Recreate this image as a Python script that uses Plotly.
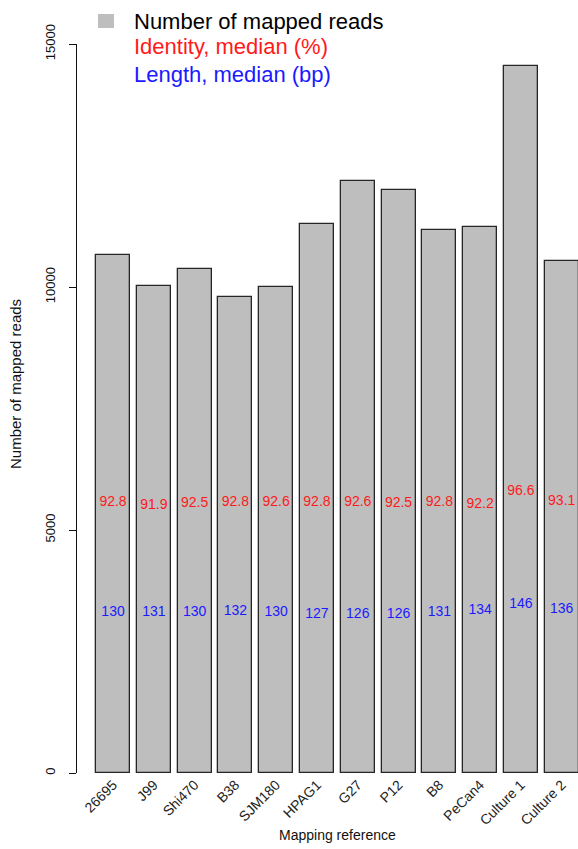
import plotly.graph_objects as go

# Mapping references and per-reference statistics
references = ["26695", "J99", "Shi470", "B38", "SJM180", "HPAG1", "G27",
              "P12", "B8", "PeCan4", "Culture 1", "Culture 2"]
mapped_reads = [10650, 10030, 10380, 9790, 10000, 11290, 12175, 12000,
                11170, 11230, 14550, 10540]
identity_median = [92.8, 91.9, 92.5, 92.8, 92.6, 92.8, 92.6, 92.5, 92.8,
                   92.2, 96.6, 93.1]
length_median = [130, 131, 130, 132, 130, 127, 126, 126, 131, 134, 146, 136]

y_ticks = [0, 5000, 10000, 15000]

W, H = 578, 849
ML, MR, MT, MB = 77, 0, 44, 76
PW, PH = W - ML - MR, H - MT - MB

FONT = "Liberation Sans, Arial, sans-serif"

# barplot-style positions: width 1, space 0.2
centers = [0.7 + 1.2 * i for i in range(len(references))]


def px_x(x):
    return (x - ML) / PW


def px_y(y):
    return (H - MB - y) / PH


fig = go.Figure()

fig.add_trace(go.Bar(
    x=centers, y=mapped_reads, width=1.0,
    marker=dict(color="#BEBEBE", line=dict(color="#262626", width=1.3)),
    hoverinfo="skip", showlegend=False,
))

# Identity medians (red) and length medians (blue) written inside the bars
fig.add_trace(go.Scatter(
    x=centers, y=[v * 60 for v in identity_median],
    text=[f"{v:.1f}" for v in identity_median],
    mode="text", textfont=dict(family=FONT, size=14, color="#FF1A1A"),
    cliponaxis=False, showlegend=False, hoverinfo="skip",
))
fig.add_trace(go.Scatter(
    x=centers, y=[v * 10 + 2000 for v in length_median],
    text=[str(v) for v in length_median],
    mode="text", textfont=dict(family=FONT, size=14, color="#1A1AFF"),
    cliponaxis=False, showlegend=False, hoverinfo="skip",
))

# Legend block
fig.add_shape(type="rect", xref="paper", yref="paper",
              x0=px_x(98), x1=px_x(114), y0=px_y(28), y1=px_y(14),
              fillcolor="#BEBEBE", line=dict(width=0))
legend_rows = [("Number of mapped reads", "#000000", 21),
               ("Identity, median (%)", "#FF1A1A", 47),
               ("Length, median (bp)", "#1A1AFF", 74)]
for label, color, ypix in legend_rows:
    fig.add_annotation(text=label, xref="paper", yref="paper",
                       x=px_x(132), y=px_y(ypix), xanchor="left",
                       yanchor="middle", showarrow=False,
                       font=dict(family=FONT, size=22, color=color))

# Axis titles
fig.add_annotation(text="Number of mapped reads", xref="paper", yref="paper",
                   x=px_x(16), y=px_y(384), textangle=-90, showarrow=False,
                   xanchor="center", yanchor="middle",
                   font=dict(family=FONT, size=15, color="#111111"))
fig.add_annotation(text="Mapping reference", xref="paper", yref="paper",
                   x=px_x(337), y=px_y(835), showarrow=False,
                   xanchor="center", yanchor="middle",
                   font=dict(family=FONT, size=14, color="#111111"))

fig.update_layout(
    width=W, height=H,
    margin=dict(l=ML, r=MR, t=MT, b=MB, pad=0),
    paper_bgcolor="white", plot_bgcolor="white",
    font=dict(family=FONT, color="#111111"),
    bargap=0,
)
fig.update_xaxes(
    range=[-0.36, 14.38], tickvals=centers, ticktext=references,
    tickangle=-45, showline=False, showgrid=False, zeroline=False,
    ticks="", tickfont=dict(family=FONT, size=14, color="#222222"),
)
fig.update_yaxes(
    range=[0, 15000], tickvals=y_ticks, ticktext=[str(t) for t in y_ticks],
    tickangle=-90, showline=True, linecolor="#111111", linewidth=1.3,
    ticks="outside", ticklen=7, tickwidth=1.3, tickcolor="#111111",
    showgrid=False, zeroline=False, ticklabelstandoff=9,
    tickfont=dict(family=FONT, size=13, color="#111111"),
)

fig.write_html("out.html")
